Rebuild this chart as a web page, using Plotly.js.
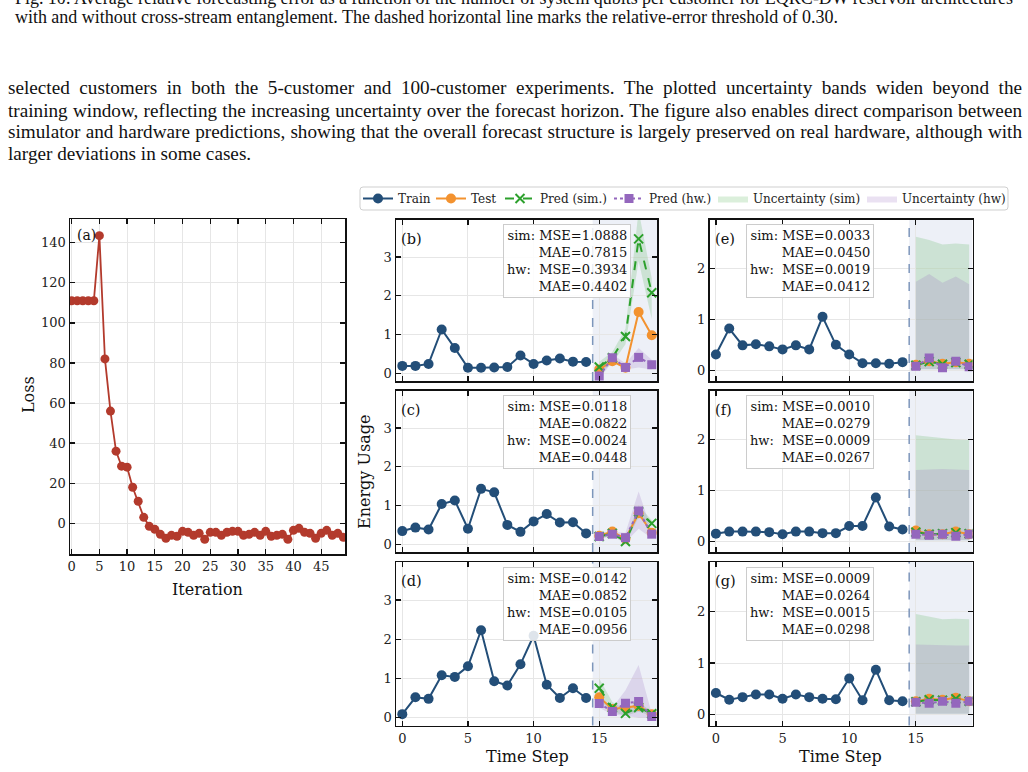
<!DOCTYPE html>
<html><head><meta charset="utf-8">
<script src="https://cdn.plot.ly/plotly-3.0.1.min.js"></script>
<style>html,body{margin:0;padding:0;background:#fff;} #chart{width:1028px;height:772px;}</style>
</head><body><div id="chart"></div>
<script>
// ---------------- DATA ----------------
const iterations = [0,1,2,3,4,5,6,7,8,9,10,11,12,13,14,15,16,17,18,19,20,21,22,23,24,25,26,27,28,29,30,31,32,33,34,35,36,37,38,39,40,41,42,43,44,45,46,47,48,49];
const lossValues = [111,111,111,111,111,143.5,82,56,36,28.5,28,18,11,3,-1.5,-3,-5.5,-7.5,-6,-6.5,-4,-4.5,-6,-5,-8,-4.5,-4.5,-6,-4.5,-4,-4,-6,-5.5,-4.5,-6,-4,-6.5,-6,-5.5,-8,-3.5,-2.5,-4.5,-5,-7.5,-5,-3.5,-6,-5,-7];

const trainSteps = [0,1,2,3,4,5,6,7,8,9,10,11,12,13,14];
const forecastSteps = [15,16,17,18,19];

// panel (b)
const trainB = [0.19,0.19,0.24,1.13,0.65,0.14,0.14,0.15,0.16,0.46,0.24,0.33,0.38,0.30,0.29];
const testB = [0.10,0.31,0.14,1.58,0.98];
const predSimB = [0.16,0.40,0.95,3.47,2.08];
const predHwB = [-0.07,0.40,0.15,0.41,0.22];
const simLoB = [0.00,0.25,0.75,2.90,1.40];
const simHiB = [0.30,0.55,1.15,4.20,2.45];
const hwLoB = [-0.15,0.30,0.10,0.15,0.10];
const hwHiB = [0.05,0.50,0.25,0.65,0.35];
const statsB = ['1.0888','0.7815','0.3934','0.4402'];

// panel (c)
const trainC = [0.34,0.43,0.38,1.04,1.13,0.40,1.43,1.34,0.50,0.32,0.59,0.78,0.56,0.57,0.28];
const testC = [0.22,0.33,0.14,0.80,0.30];
const predSimC = [0.20,0.28,0.07,0.84,0.54];
const predHwC = [0.20,0.26,0.17,0.86,0.26];
const simLoC = [0.15,0.22,0.02,0.70,0.45];
const simHiC = [0.25,0.35,0.15,1.00,0.62];
const hwLoC = [0.15,0.20,0.05,0.40,0.15];
const hwHiC = [0.25,0.32,0.30,1.36,0.35];
const statsC = ['0.0118','0.0822','0.0024','0.0448'];

// panel (d)
const trainD = [0.09,0.52,0.48,1.08,1.04,1.31,2.23,0.93,0.82,1.36,2.09,0.84,0.50,0.75,0.50];
const testD = [0.52,0.22,0.26,0.30,0.09];
const predSimD = [0.75,0.26,0.11,0.26,0.10];
const predHwD = [0.36,0.16,0.37,0.41,0.03];
const simLoD = [0.45,0.15,0.05,0.15,0.05];
const simHiD = [1.00,0.40,0.20,0.40,0.15];
const hwLoD = [0.25,0.08,0.05,0.00,0.00];
const hwHiD = [0.45,0.25,0.70,1.34,0.10];
const statsD = ['0.0142','0.0852','0.0105','0.0956'];

// panel (e)
const trainE = [0.31,0.82,0.49,0.51,0.47,0.41,0.49,0.41,1.05,0.50,0.31,0.14,0.14,0.13,0.16];
const testE = [0.11,0.18,0.13,0.16,0.13];
const predSimE = [0.10,0.17,0.12,0.15,0.12];
const predHwE = [0.08,0.24,0.05,0.18,0.07];
const simLoE = [0.02,0.02,0.02,0.02,0.02];
const simHiE = [2.62,2.56,2.47,2.49,2.47];
const hwLoE = [0.02,0.02,0.02,0.02,0.02];
const hwHiE = [1.74,1.89,1.72,1.84,1.69];
const statsE = ['0.0033','0.0450','0.0019','0.0412'];

// panel (f)
const trainF = [0.15,0.19,0.19,0.19,0.18,0.14,0.19,0.19,0.16,0.16,0.30,0.30,0.86,0.29,0.23];
const testF = [0.21,0.14,0.14,0.19,0.14];
const predSimF = [0.18,0.14,0.15,0.17,0.15];
const predHwF = [0.14,0.12,0.14,0.10,0.14];
const simLoF = [0.02,0.02,0.02,0.02,0.02];
const simHiF = [2.08,2.05,2.02,2.00,1.99];
const hwLoF = [0.02,0.02,0.02,0.02,0.02];
const hwHiF = [1.40,1.41,1.42,1.41,1.40];
const statsF = ['0.0010','0.0279','0.0009','0.0267'];

// panel (g)
const trainG = [0.42,0.29,0.34,0.39,0.39,0.31,0.39,0.34,0.31,0.30,0.70,0.28,0.87,0.28,0.26];
const testG = [0.26,0.31,0.29,0.33,0.26];
const predSimG = [0.25,0.29,0.28,0.31,0.26];
const predHwG = [0.24,0.22,0.26,0.22,0.26];
const simLoG = [0.02,0.02,0.02,0.02,0.02];
const simHiG = [1.95,1.90,1.85,1.86,1.85];
const hwLoG = [0.02,0.02,0.02,0.02,0.02];
const hwHiG = [1.36,1.35,1.34,1.34,1.34];
const statsG = ['0.0009','0.0264','0.0015','0.0298'];

const panelLabels = ['(b)','(c)','(d)','(e)','(f)','(g)'];
const seriesNames = ['Train','Test','Pred (sim.)','Pred (hw.)','Uncertainty (sim)','Uncertainty (hw)'];

const captionLines = [
  'Fig. 10: Average relative forecasting error as a function of the number of system qubits per customer for EQRC-DW reservoir architectures',
  'with and without cross-stream entanglement. The dashed horizontal line marks the relative-error threshold of 0.30.'
];
const bodyLines = [
  'selected customers in both the 5-customer and 100-customer experiments. The plotted uncertainty bands widen beyond the',
  'training window, reflecting the increasing uncertainty over the forecast horizon. The figure also enables direct comparison between',
  'simulator and hardware predictions, showing that the overall forecast structure is largely preserved on real hardware, although with',
  'larger deviations in some cases.'
];

// ---------------- STYLE / GEOMETRY ----------------
const W = 1028, H = 772;
const px = v => v / W;
const py = v => 1 - v / H;
const SERIF = 'DejaVu Serif, serif';
const TIMES = 'Liberation Serif, Times New Roman, serif';
const C_TRAIN = '#234e78', C_TEST = '#f3922f', C_SIM = '#2ca02c', C_HW = '#9467bd', C_LOSS = '#b33a2c';
const C_SHADE = '#edf0f7', C_VLINE = '#7d96bb';

const panels = [
  {label:panelLabels[0], train:trainB, test:testB, sim:predSimB, hw:predHwB, sLo:simLoB, sHi:simHiB, hLo:hwLoB, hHi:hwHiB, stats:statsB, col:0, row:0},
  {label:panelLabels[1], train:trainC, test:testC, sim:predSimC, hw:predHwC, sLo:simLoC, sHi:simHiC, hLo:hwLoC, hHi:hwHiC, stats:statsC, col:0, row:1},
  {label:panelLabels[2], train:trainD, test:testD, sim:predSimD, hw:predHwD, sLo:simLoD, sHi:simHiD, hLo:hwLoD, hHi:hwHiD, stats:statsD, col:0, row:2},
  {label:panelLabels[3], train:trainE, test:testE, sim:predSimE, hw:predHwE, sLo:simLoE, sHi:simHiE, hLo:hwLoE, hHi:hwHiE, stats:statsE, col:1, row:0},
  {label:panelLabels[4], train:trainF, test:testF, sim:predSimF, hw:predHwF, sLo:simLoF, sHi:simHiF, hLo:hwLoF, hHi:hwHiF, stats:statsF, col:1, row:1},
  {label:panelLabels[5], train:trainG, test:testG, sim:predSimG, hw:predHwG, sLo:simLoG, sHi:simHiG, hLo:hwLoG, hHi:hwHiG, stats:statsG, col:1, row:2}
];
const colX = [[396,657],[709.5,972.5]];
const rowY = [[219.5,381],[390.5,552],[562,725.5]];
const colXRange = [[-0.48,19.4],[-0.48,19.25]];
const colYRange = [[-0.2,3.97],[-0.21,2.96]];
const colYTicks = [[0,1,2,3],[0,1,2]];
const statBoxX = [503, 745.5];
// legend item text start (page px) for each series
const legendTextX = [398, 471, 540, 649, 753, 902];
const legendIds = ['legend','legend2','legend3','legend4','legend5','legend6'];

function axisBase(extra) {
  return Object.assign({
    showline:true, linecolor:'#111', linewidth:1.5, mirror:'ticks',
    ticks:'inside', ticklen:5, tickwidth:1.3, tickcolor:'#111',
    showgrid:true, gridcolor:'#e6e6e6', gridwidth:1, zeroline:false,
    tickfont:{family:SERIF, size:13, color:'#222'}
  }, extra);
}

const data = [];
const layout = {
  width:W, height:H, margin:{l:0,r:0,t:0,b:0,autoexpand:false},
  paper_bgcolor:'#fff', plot_bgcolor:'#fff',
  font:{family:SERIF, color:'#222'},
  showlegend:true,
  shapes:[], annotations:[]
};
legendIds.forEach((id, k) => {
  layout[id] = {orientation:'h', x:px(legendTextX[k] - 40), y:py(198.5), xanchor:'left', yanchor:'middle',
    bgcolor:'rgba(0,0,0,0)', borderwidth:0, font:{family:SERIF, size:12, color:'#222'}, itemwidth:30};
});
// legend frame (rounded)
(function(){
  const x0 = 360, x1 = 1008, y0 = 187, y1 = 210, r = 3;
  const P = (x, y) => px(x) + ',' + py(y);
  const path = 'M' + P(x0 + r, y0) + ' L' + P(x1 - r, y0) + ' Q' + P(x1, y0) + ' ' + P(x1, y0 + r) +
    ' L' + P(x1, y1 - r) + ' Q' + P(x1, y1) + ' ' + P(x1 - r, y1) + ' L' + P(x0 + r, y1) +
    ' Q' + P(x0, y1) + ' ' + P(x0, y1 - r) + ' L' + P(x0, y0 + r) + ' Q' + P(x0, y0) + ' ' + P(x0 + r, y0) + ' Z';
  layout.shapes.push({type:'path', xref:'paper', yref:'paper', path:path, fillcolor:'#ffffff',
    line:{color:'#cfcfcf', width:1}, layer:'below'});
})();

// Panel (a): loss
layout.xaxis = axisBase({domain:[px(70),px(345)], range:[-0.3,49.3], tickvals:[0,5,10,15,20,25,30,35,40,45], anchor:'y'});
layout.yaxis = axisBase({domain:[py(554),py(219)], range:[-15.3,151.8], tickvals:[0,20,40,60,80,100,120,140], anchor:'x'});
data.push({x:iterations, y:lossValues, xaxis:'x', yaxis:'y', type:'scatter', mode:'lines+markers',
  line:{color:C_LOSS, width:1.8}, marker:{color:C_LOSS, size:9}, showlegend:false, hoverinfo:'skip'});

function ann(x, y, text, size, extra) {
  return Object.assign({xref:'paper', yref:'paper', x:px(x), y:py(y), xanchor:'center', yanchor:'middle',
    text:text, showarrow:false, font:{family:SERIF, size:size, color:'#111'}}, extra || {});
}
layout.annotations.push(ann(75, 235, '(a)', 14, {xanchor:'left'}));
layout.annotations.push(ann(28, 395, 'Loss', 16, {textangle:-90}));
layout.annotations.push(ann(207, 589, 'Iteration', 16));

function bandXY(lo, hi) {
  return {x: forecastSteps.concat(forecastSteps.slice().reverse()), y: hi.concat(lo.slice().reverse())};
}

panels.forEach((p, i) => {
  const n = i + 2;
  const xa = 'x' + n, ya = 'y' + n;
  const xr = colXRange[p.col], yr = colYRange[p.col];
  layout['xaxis' + n] = axisBase({domain:[px(colX[p.col][0]), px(colX[p.col][1])], range:xr,
    tickvals:[0,5,10,15], showticklabels:p.row === 2, anchor:ya});
  layout['yaxis' + n] = axisBase({domain:[py(rowY[p.row][1]), py(rowY[p.row][0])], range:yr,
    tickvals:colYTicks[p.col], anchor:xa});
  layout.shapes.push({type:'rect', xref:xa, yref:ya + ' domain', x0:14.5, x1:xr[1], y0:0, y1:1,
    fillcolor:C_SHADE, line:{width:0}, layer:'below'});
  layout.shapes.push({type:'line', xref:xa, yref:ya + ' domain', x0:14.5, x1:14.5, y0:0, y1:1,
    line:{color:C_VLINE, width:1.5, dash:'dash'}, layer:'above'});
  const first = i === 0;
  const bs = bandXY(p.sLo, p.sHi), bh = bandXY(p.hLo, p.hHi);
  data.push({x:bs.x, y:bs.y, xaxis:xa, yaxis:ya, type:'scatter', mode:'lines', fill:'toself',
    fillcolor:'rgba(44,160,44,0.17)', line:{width:0, color:'rgba(0,0,0,0)'},
    name:seriesNames[4], legend:legendIds[4], showlegend:first, hoverinfo:'skip'});
  data.push({x:bh.x, y:bh.y, xaxis:xa, yaxis:ya, type:'scatter', mode:'lines', fill:'toself',
    fillcolor:'rgba(148,103,189,0.2)', line:{width:0, color:'rgba(0,0,0,0)'},
    name:seriesNames[5], legend:legendIds[5], showlegend:first, hoverinfo:'skip'});
  data.push({x:trainSteps, y:p.train, xaxis:xa, yaxis:ya, type:'scatter', mode:'lines+markers',
    line:{color:C_TRAIN, width:2}, marker:{color:C_TRAIN, size:10},
    name:seriesNames[0], legend:legendIds[0], showlegend:first, hoverinfo:'skip'});
  data.push({x:forecastSteps, y:p.test, xaxis:xa, yaxis:ya, type:'scatter', mode:'lines+markers',
    line:{color:C_TEST, width:2}, marker:{color:C_TEST, size:10},
    name:seriesNames[1], legend:legendIds[1], showlegend:first, hoverinfo:'skip'});
  data.push({x:forecastSteps, y:p.sim, xaxis:xa, yaxis:ya, type:'scatter', mode:'lines+markers',
    line:{color:C_SIM, width:2, dash:'dash'}, marker:{color:C_SIM, size:9, symbol:'x-thin', line:{color:C_SIM, width:2}},
    name:seriesNames[2], legend:legendIds[2], showlegend:first, hoverinfo:'skip'});
  data.push({x:forecastSteps, y:p.hw, xaxis:xa, yaxis:ya, type:'scatter', mode:'lines+markers',
    line:{color:C_HW, width:2, dash:'dot'}, marker:{color:C_HW, size:9, symbol:'square'},
    name:seriesNames[3], legend:legendIds[3], showlegend:first, hoverinfo:'skip'});
  layout.annotations.push(ann(colX[p.col][0] + 3, rowY[p.row][0] + 19, p.label, 14.5, {xanchor:'left'}));
  const nb = '\u00a0';
  const txt = 'sim:' + nb + 'MSE=' + p.stats[0] + '<br>MAE=' + p.stats[1] + '<br>hw:' + nb + nb + 'MSE=' + p.stats[2] + '<br>MAE=' + p.stats[3];
  layout.annotations.push(ann(statBoxX[p.col], rowY[p.row][0] + 4.5, txt, 13, {
    xanchor:'left', yanchor:'top', align:'right',
    bgcolor:'rgba(255,255,255,0.85)', bordercolor:'#cccccc', borderwidth:1, borderpad:3}));
});

layout.annotations.push(ann(365, 472, 'Energy Usage', 16, {textangle:-90}));
layout.annotations.push(ann(527, 756, 'Time Step', 16));
layout.annotations.push(ann(840, 756, 'Time Step', 16));

// page text
const capY = [-2, 17];
captionLines.forEach((s, k) => layout.annotations.push(ann(13, capY[k], s, 18, {xanchor:'left', font:{family:TIMES, size:18, color:'#111'}})));
const bodyY = [88, 110, 132, 153];
bodyLines.forEach((s, k) => layout.annotations.push(ann(6, bodyY[k], s, 19.2, {xanchor:'left', font:{family:TIMES, size:19.2, color:'#111'}})));

function justifyLine(el, left, right) {
  const r = el.getBoundingClientRect();
  const anchor = el.getAttribute('text-anchor') || 'start';
  const x0 = parseFloat(el.getAttribute('x') || 0);
  const w0 = el.getComputedTextLength();
  let localLeft = anchor === 'middle' ? x0 - w0 / 2 : (anchor === 'end' ? x0 - w0 : x0);
  localLeft += (left - r.left);
  const spaces = (el.textContent.match(/ /g) || []).length;
  el.setAttribute('text-anchor', 'start');
  el.setAttribute('x', localLeft);
  if (right !== null && spaces > 0) el.style.wordSpacing = (((right - left) - w0) / spaces) + 'px';
}

Plotly.newPlot('chart', data, layout, {displayModeBar:false, staticPlot:true}).then(gd => {
  const texts = Array.from(gd.querySelectorAll('text.annotation-text'));
  texts.forEach(el => {
    const k = bodyLines.indexOf(el.textContent);
    if (k >= 0 && k < 3) justifyLine(el, 8, 1022);
    const c = captionLines.indexOf(el.textContent);
    if (c === 1) justifyLine(el, 15, 838);
    if (c === 0) justifyLine(el, 15, 1013);
  });
});
</script></body></html>
